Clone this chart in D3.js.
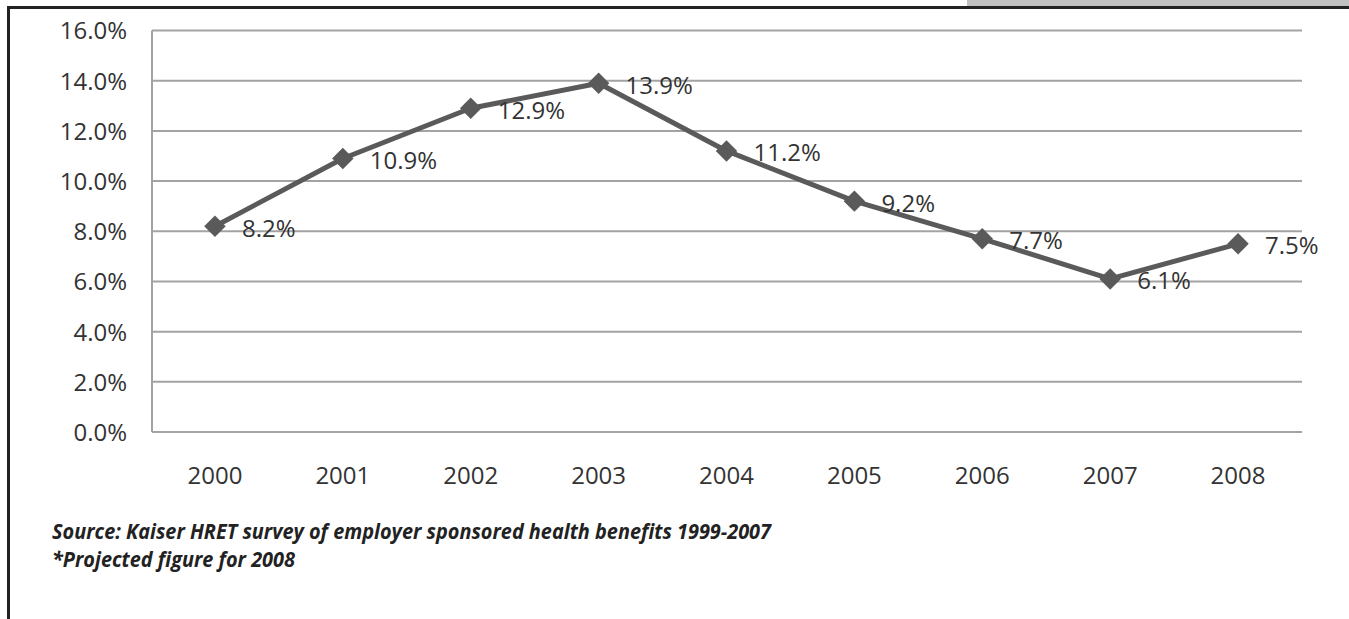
<!DOCTYPE html>
<html>
<head>
<meta charset="utf-8">
<script src="https://cdn.jsdelivr.net/npm/d3@7"></script>
<style>
  html, body { margin: 0; padding: 0; background: #fff; }
  svg { display: block; }
  text { font-family: "Open Sans", "Noto Sans", sans-serif; }
</style>
</head>
<body>
<svg id="chart" width="1349" height="619"></svg>
<script>
// Annual premium increase, employer sponsored health benefits
const years = ["2000", "2001", "2002", "2003", "2004", "2005", "2006", "2007", "2008"];
const increases = [8.2, 10.9, 12.9, 13.9, 11.2, 9.2, 7.7, 6.1, 7.5];
const yTicks = [0, 2, 4, 6, 8, 10, 12, 14, 16];
const notes = [
  "Source: Kaiser HRET survey of employer sponsored health benefits 1999-2007",
  "*Projected figure for 2008"
];

const svg = d3.select("#chart");
const W = 1349, H = 619;

// page frame: gray tab, top rule and left rule
svg.append("rect").attr("x", 967).attr("y", 0).attr("width", W - 967).attr("height", 7).attr("fill", "#c0c0c0");
svg.append("rect").attr("x", 7).attr("y", 6).attr("width", W - 7).attr("height", 3).attr("fill", "#222");
svg.append("rect").attr("x", 7).attr("y", 6).attr("width", 3).attr("height", H - 6).attr("fill", "#222");

const x = d3.scaleBand().domain(years).range([151, 1302]).padding(0);
const y = d3.scaleLinear().domain([0, 16]).range([432, 30.5]);

// horizontal gridlines
svg.append("g").selectAll("line").data(yTicks).join("line")
  .attr("x1", 152).attr("x2", 1302)
  .attr("y1", d => y(d)).attr("y2", d => y(d))
  .attr("stroke", "#a3a3a3").attr("stroke-width", 2);

// value axis line
svg.append("line").attr("x1", 152).attr("x2", 152).attr("y1", y(16)).attr("y2", y(0))
  .attr("stroke", "#a3a3a3").attr("stroke-width", 2);

// y axis labels
const yAxis = d3.axisLeft(y).tickValues(yTicks).tickSize(0).tickPadding(0)
  .tickFormat(d => d.toFixed(1) + "%");
const gy = svg.append("g").attr("transform", "translate(127,0)").call(yAxis);
gy.select(".domain").remove();
gy.selectAll("text").attr("font-size", 24).attr("fill", "#333")
  .attr("font-family", "'Open Sans', sans-serif").attr("dy", "0.35em");

// x axis labels
const xAxis = d3.axisBottom(x).tickSize(0).tickPadding(0);
const gx = svg.append("g").attr("transform", "translate(0,476)").call(xAxis);
gx.select(".domain").remove();
gx.selectAll("text").attr("font-size", 24).attr("fill", "#333")
  .attr("font-family", "'Open Sans', sans-serif").attr("dy", "0.35em");

const pts = years.map((yr, i) => ({ yr, v: increases[i] }));
const cx = d => x(d.yr) + x.bandwidth() / 2;

// trend line
svg.append("path").datum(pts)
  .attr("d", d3.line().x(cx).y(d => y(d.v)))
  .attr("fill", "none").attr("stroke", "#5a5a5a").attr("stroke-width", 5)
  .attr("stroke-linejoin", "round");

// diamond markers
svg.append("g").selectAll("path").data(pts).join("path")
  .attr("d", d3.symbol(d3.symbolSquare, 230))
  .attr("transform", d => `translate(${cx(d)},${y(d.v)}) rotate(45)`)
  .attr("fill", "#5a5a5a");

// data labels
svg.append("g").selectAll("text").data(pts).join("text")
  .attr("x", d => cx(d) + 27)
  .attr("y", d => y(d.v) + 2)
  .attr("dy", "0.35em")
  .attr("font-size", 24).attr("fill", "#333")
  .text(d => d.v.toFixed(1) + "%");

// source notes
const noteWidths = [719, 243];
svg.append("g").selectAll("text").data(notes).join("text")
  .attr("x", 52)
  .attr("y", (d, i) => 539 + i * 28)
  .attr("font-size", 22).attr("font-weight", "bold").attr("font-style", "italic")
  .attr("fill", "#222")
  .attr("textLength", (d, i) => noteWidths[i])
  .attr("lengthAdjust", "spacingAndGlyphs")
  .text(d => d);
</script>
</body>
</html>
